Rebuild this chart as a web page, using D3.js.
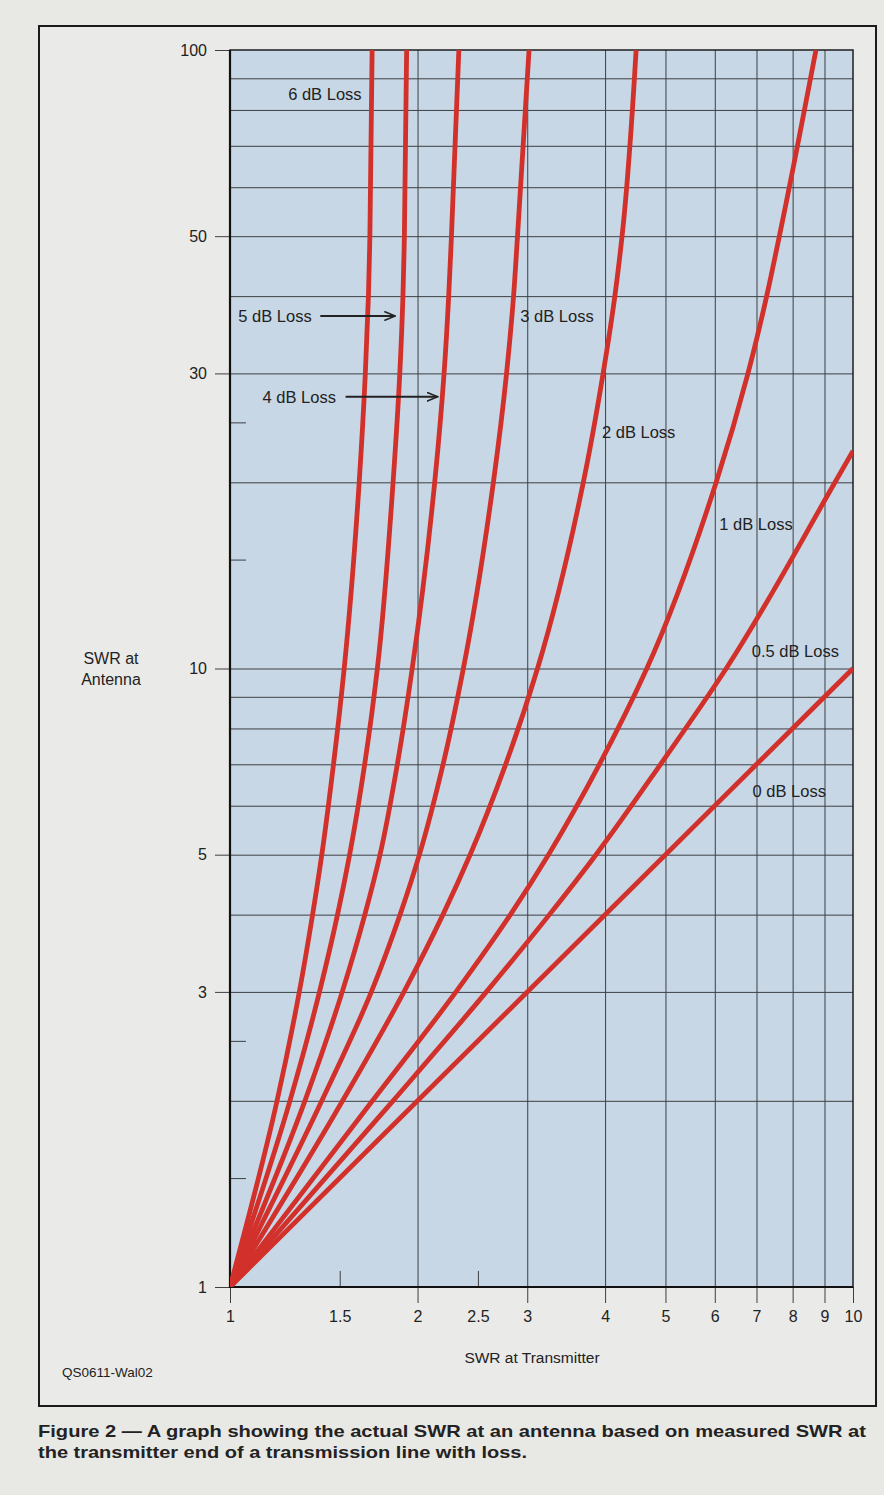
<!DOCTYPE html>
<html>
<head>
<meta charset="utf-8">
<script src="https://cdn.jsdelivr.net/npm/d3@7"></script>
<style>
  html, body { margin: 0; padding: 0; background: #e8e8e5; }
  svg { display: block; }
  text { font-family: "Liberation Sans", Arial, Helvetica, sans-serif; fill: #222; }
</style>
</head>
<body>
<script>
// ---------- data ----------
// SWR at antenna levels at which each curve was read
const yLevels = [1, 2, 3, 4, 5, 7, 10, 20, 30, 40, 50, 100];
// SWR at transmitter for each loss curve, at the levels above
const loss6dB = [1, 1.190, 1.292, 1.357, 1.404, 1.466, 1.525, 1.612, 1.649, 1.668, 1.677, 1.691];
const loss5dB = [1, 1.248, 1.392, 1.488, 1.556, 1.645, 1.724, 1.827, 1.873, 1.895, 1.905, 1.921];
const loss4dB = [1, 1.319, 1.514, 1.646, 1.741, 1.856, 1.961, 2.131, 2.206, 2.244, 2.267, 2.33];
const loss3dB = [1, 1.404, 1.686, 1.875, 2.014, 2.198, 2.369, 2.647, 2.779, 2.852, 2.894, 3.02];
const loss2dB = [1, 1.516, 1.902, 2.197, 2.429, 2.770, 3.116, 3.691, 3.971, 4.147, 4.259, 4.486];
const loss1dB = [1, 1.693, 2.305, 2.819, 3.245, 3.917, 4.667, 6.031, 6.783, 7.268, 7.617, 8.72];
// 0.5 dB curve leaves through the right edge
const loss05Y = [1, 2, 3, 4, 5, 7, 10, 20, 22.47];
const loss05X = [1, 1.827, 2.579, 3.256, 3.868, 4.910, 6.259, 9.357, 10];
// 0 dB is the diagonal
const loss0Y = [1, 10];
const loss0X = [1, 10];

// axis ticks
const xLabelTicks = [1, 1.5, 2, 2.5, 3, 4, 5, 6, 7, 8, 9, 10];
const xGridTicks = [2, 3, 4, 5, 6, 7, 8, 9];
const xOuterTicks = [1, 2, 3, 4, 5, 6, 7, 8, 9, 10];
const xInnerTicks = [1.5, 2.5];
const yLabelTicks = [1, 3, 5, 10, 30, 50, 100];
const yGridTicks = [2, 3, 4, 5, 6, 7, 8, 9, 10, 20, 30, 40, 50, 60, 70, 80, 90];
const yInnerTicks = [1.5, 2.5, 15, 25];

// curve labels: [text, x (SWR at transmitter), y (SWR at antenna)] at text start / baseline
const curveLabels = [
  ["6 dB Loss", 1.240, 83.0],
  ["5 dB Loss", 1.031, 36.3],
  ["4 dB Loss", 1.128, 26.9],
  ["3 dB Loss", 2.924, 36.3],
  ["2 dB Loss", 3.954, 23.6],
  ["1 dB Loss", 6.10, 16.75],
  ["0.5 dB Loss", 6.88, 10.44],
  ["0 dB Loss", 6.90, 6.20]
];
// arrows: [x from, x to, y]
const arrows = [
  [1.396, 1.842, 37.15],
  [1.533, 2.155, 27.5]
];

// ---------- drawing ----------
const W = 884, H = 1495;
const plot = { left: 230, right: 853, top: 50, bottom: 1287 };

const svg = d3.select("body").append("svg").attr("width", W).attr("height", H);

svg.append("rect").attr("x", 0).attr("y", 0).attr("width", W).attr("height", H).attr("fill", "#e8e8e5");
// outer frame
svg.append("rect").attr("x", 39).attr("y", 26).attr("width", 837).attr("height", 1380)
  .attr("fill", "#eaeae8").attr("stroke", "#1b1b1b").attr("stroke-width", 2);

const x = d3.scaleLog().domain([1, 10]).range([plot.left, plot.right]);
const y = d3.scaleLog().domain([1, 100]).range([plot.bottom, plot.top]);

// plot background
svg.append("rect")
  .attr("x", x(1)).attr("y", y(100))
  .attr("width", x(10) - x(1)).attr("height", y(1) - y(100))
  .attr("fill", "#c8d7e5");

const fmt = d3.format("~g");
const plotH = y(1) - y(100);
const plotW = x(10) - x(1);

function styleTicks(g, color, width) {
  g.select(".domain").remove();
  g.selectAll(".tick line").attr("stroke", color).attr("stroke-width", width);
}

// vertical grid
svg.append("g").attr("transform", `translate(0,${y(1)})`)
  .call(d3.axisBottom(x).tickValues(xGridTicks).tickSize(-plotH).tickFormat(""))
  .call(g => styleTicks(g, "#3d3f42", 1));
// horizontal grid
svg.append("g").attr("transform", `translate(${x(1)},0)`)
  .call(d3.axisLeft(y).tickValues(yGridTicks).tickSize(-plotW).tickFormat(""))
  .call(g => styleTicks(g, "#3d3f42", 1));
// inner short ticks
svg.append("g").attr("transform", `translate(0,${y(1)})`)
  .call(d3.axisBottom(x).tickValues(xInnerTicks).tickSize(-16).tickFormat(""))
  .call(g => styleTicks(g, "#3d3f42", 1));
svg.append("g").attr("transform", `translate(${x(1)},0)`)
  .call(d3.axisLeft(y).tickValues(yInnerTicks).tickSize(-16).tickFormat(""))
  .call(g => styleTicks(g, "#3d3f42", 1));
// outer ticks
svg.append("g").attr("transform", `translate(0,${y(1)})`)
  .call(d3.axisBottom(x).tickValues(xOuterTicks).tickSize(16).tickFormat(""))
  .call(g => styleTicks(g, "#3d3f42", 1));
svg.append("g").attr("transform", `translate(${x(1)},0)`)
  .call(d3.axisLeft(y).tickValues(yLabelTicks).tickSize(15).tickFormat(""))
  .call(g => styleTicks(g, "#3d3f42", 1));

// tick labels
const xLab = svg.append("g").attr("transform", `translate(0,${y(1)})`)
  .call(d3.axisBottom(x).tickValues(xLabelTicks).tickSize(0).tickPadding(24).tickFormat(fmt));
xLab.select(".domain").remove();
xLab.selectAll("text").attr("font-size", 16).attr("fill", "#222")
  .attr("font-family", "'Liberation Sans', Arial, sans-serif");

const yLab = svg.append("g").attr("transform", `translate(${x(1)},0)`)
  .call(d3.axisLeft(y).tickValues(yLabelTicks).tickSize(0).tickPadding(23).tickFormat(fmt));
yLab.select(".domain").remove();
yLab.selectAll("text").attr("font-size", 16).attr("fill", "#222")
  .attr("font-family", "'Liberation Sans', Arial, sans-serif");

// plot border: thin top/right, heavy left/bottom
svg.append("rect")
  .attr("x", x(1)).attr("y", y(100)).attr("width", plotW).attr("height", plotH)
  .attr("fill", "none").attr("stroke", "#1e1e1e").attr("stroke-width", 1.5);
svg.append("path")
  .attr("d", `M${x(1)},${y(100)}V${y(1)}H${x(10)}`)
  .attr("fill", "none").attr("stroke", "#111").attr("stroke-width", 2.2);

// curves
svg.append("clipPath").attr("id", "plotClip").append("rect")
  .attr("x", x(1)).attr("y", y(100)).attr("width", plotW).attr("height", plotH);

const series = [
  { xs: loss0X, ys: loss0Y },
  { xs: loss05X, ys: loss05Y },
  { xs: loss1dB, ys: yLevels },
  { xs: loss2dB, ys: yLevels },
  { xs: loss3dB, ys: yLevels },
  { xs: loss4dB, ys: yLevels },
  { xs: loss5dB, ys: yLevels },
  { xs: loss6dB, ys: yLevels }
];

const line = d3.line().x(d => x(d[0])).y(d => y(d[1])).curve(d3.curveMonotoneY);

svg.append("g").attr("clip-path", "url(#plotClip)")
  .selectAll("path").data(series).join("path")
  .attr("d", s => line(s.xs.map((v, i) => [v, s.ys[i]])))
  .attr("fill", "none").attr("stroke", "#d2302a").attr("stroke-width", 4.8)
  .attr("stroke-linejoin", "round");

// curve labels
svg.append("g").selectAll("text").data(curveLabels).join("text")
  .attr("x", d => x(d[1])).attr("y", d => y(d[2]))
  .attr("font-size", 16.5).attr("fill", "#222")
  .text(d => d[0]);

// arrows
const defs = svg.append("defs");
defs.append("marker").attr("id", "arrowHead")
  .attr("viewBox", "0 0 12 10").attr("refX", 11).attr("refY", 5)
  .attr("markerWidth", 12).attr("markerHeight", 10).attr("markerUnits", "userSpaceOnUse")
  .attr("orient", "auto")
  .append("path").attr("d", "M0,0.5 L11,5 L0,9.5")
  .attr("fill", "none").attr("stroke", "#222").attr("stroke-width", 1.6);

svg.append("g").selectAll("line").data(arrows).join("line")
  .attr("x1", d => x(d[0])).attr("x2", d => x(d[1]))
  .attr("y1", d => y(d[2])).attr("y2", d => y(d[2]))
  .attr("stroke", "#222").attr("stroke-width", 2)
  .attr("marker-end", "url(#arrowHead)");

// axis titles
const yTitle = svg.append("text").attr("text-anchor", "middle").attr("font-size", 16);
yTitle.append("tspan").attr("x", 111).attr("y", 664).text("SWR at");
yTitle.append("tspan").attr("x", 111).attr("y", 685).text("Antenna");

svg.append("text").attr("x", 532).attr("y", 1363).attr("text-anchor", "middle")
  .attr("font-size", 15.5).text("SWR at Transmitter");

svg.append("text").attr("x", 62).attr("y", 1377).attr("font-size", 13.5)
  .text("QS0611-Wal02");

// caption
svg.append("text").attr("x", 38).attr("y", 1437).attr("font-size", 17).attr("font-weight", "bold")
  .attr("fill", "#1a1a1a").attr("textLength", 828).attr("lengthAdjust", "spacingAndGlyphs")
  .text("Figure 2 \u2014 A graph showing the actual SWR at an antenna based on measured SWR at");
svg.append("text").attr("x", 38).attr("y", 1458).attr("font-size", 17).attr("font-weight", "bold")
  .attr("fill", "#1a1a1a").attr("textLength", 489).attr("lengthAdjust", "spacingAndGlyphs")
  .text("the transmitter end of a transmission line with loss.");
</script>
</body>
</html>
